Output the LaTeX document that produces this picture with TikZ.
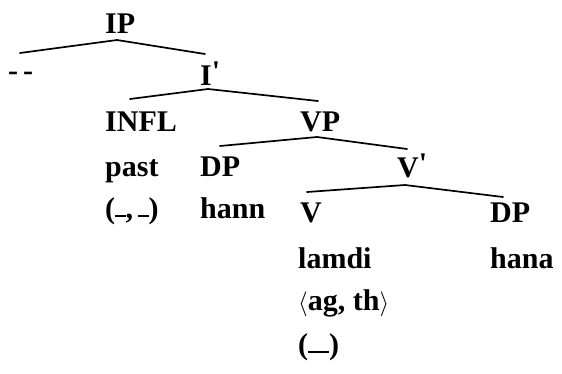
\documentclass[tikz,border=0pt]{standalone}
\usepackage{fontspec}
\setmainfont{Liberation Serif}[BoldFont={Liberation Serif Bold}]
\begin{document}
\begin{tikzpicture}[x=1pt,y=-1pt,
  lbl/.style={anchor=base west,inner sep=0pt,font=\fontsize{30}{30}\selectfont\bfseries},
  br/.style={line width=1.7pt,line cap=round}]
\useasboundingbox (0,0) rectangle (562,373);
\newcommand{\gap}[1]{\rule[0.02em]{#1}{0.09em}}
% text
\node[lbl] (ip) at (105,33) {IP};
\node[lbl] (dash) at (8,80) {-\,-};
\node[lbl] (ibar) at (200,85) {I\raisebox{0.12em}{\textquotesingle}};
\node[lbl] (infl) at (105,131) {INFL};
\node[lbl] (vp) at (300,131) {VP};
\node[lbl] (past) at (105,176) {past};
\node[lbl] (dp1) at (200,176) {DP};
\node[lbl] (vbar) at (397,177) {V\raisebox{0.12em}{\textquotesingle}};
\node[lbl] (grid1) at (105,218) {(\gap{0.35em},\,\gap{0.35em})};
\node[lbl] (hann) at (200,218) {hann};
\node[lbl] (v) at (300,222) {V};
\node[lbl] (dp2) at (490,222) {DP};
\node[lbl] (lamdi) at (298,268) {lamdi};
\node[lbl] (hana) at (490,268) {hana};
\node[lbl] (theta) at (298,310) {$\langle$ag, th$\rangle$};
\node[lbl] (grid2) at (298,354) {(\gap{0.7em})};
% branch points
\coordinate (ipT) at (117,40);
\coordinate (ipL) at (20,53);
\coordinate (ipR) at (205,54);
\coordinate (ibT) at (208,89);
\coordinate (ibL) at (130,99);
\coordinate (ibR) at (318,101);
\coordinate (vpT) at (317,137);
\coordinate (vpL) at (220,146);
\coordinate (vpR) at (407,149);
\coordinate (vbT) at (405,185);
\coordinate (vbL) at (307,192);
\coordinate (vbR) at (503,197);
\draw[br] (ipL) -- (ipT) -- (ipR);
\draw[br] (ibL) -- (ibT) -- (ibR);
\draw[br] (vpL) -- (vpT) -- (vpR);
\draw[br] (vbL) -- (vbT) -- (vbR);
\end{tikzpicture}
\end{document}
